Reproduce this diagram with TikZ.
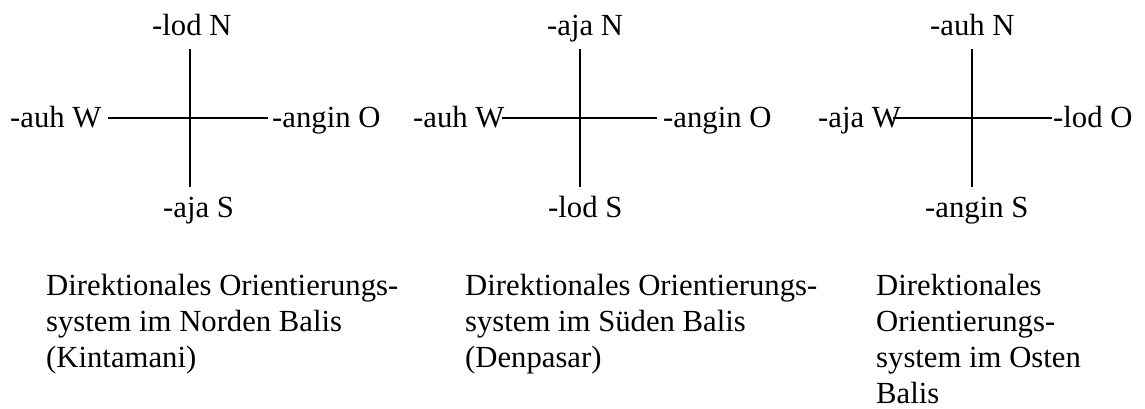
\documentclass[tikz,border=0pt]{standalone}
\usepackage{fontspec}
\setmainfont{Liberation Serif}
\tikzset{
  lbl/.style={anchor=base west, inner sep=0pt, font=\fontsize{30.7}{36}\selectfont},
  captxt/.style={anchor=north west, inner sep=0pt, align=left, font=\fontsize{30.7}{36}\selectfont},
  arm/.style={line width=1.5pt, black}
}
\begin{document}
\begin{tikzpicture}[x=1pt,y=1pt]
\useasboundingbox (0,0) rectangle (1145,408);
% Diagram 1
\coordinate (a1n) at (190,359); \coordinate (a1s) at (190,221);
\coordinate (a1w) at (108,290); \coordinate (a1o) at (268,290);
\draw[arm] (a1n) -- (a1s);
\draw[arm] (a1w) -- (a1o);
\node[lbl] (l1n) at (152,372) {-lod N};
\node[lbl] (l1w) at (10,281) {-auh W};
\node[lbl] (l1o) at (272,281) {-angin O};
\node[lbl] (l1s) at (163,191) {-aja S};
% Diagram 2
\coordinate (a2n) at (580,359); \coordinate (a2s) at (580,221);
\coordinate (a2w) at (502,290); \coordinate (a2o) at (657,290);
\draw[arm] (a2n) -- (a2s);
\draw[arm] (a2w) -- (a2o);
\node[lbl] (l2n) at (547,372) {-aja N};
\node[lbl] (l2w) at (413,281) {-auh W};
\node[lbl] (l2o) at (663,281) {-angin O};
\node[lbl] (l2s) at (548,191) {-lod S};
% Diagram 3
\coordinate (a3n) at (972,359); \coordinate (a3s) at (972,221);
\coordinate (a3w) at (893,290); \coordinate (a3o) at (1052,290);
\draw[arm] (a3n) -- (a3s);
\draw[arm] (a3w) -- (a3o);
\node[lbl] (l3n) at (930,372) {-auh N};
\node[lbl] (l3w) at (818,281) {-aja W};
\node[lbl] (l3o) at (1053,281) {-lod O};
\node[lbl] (l3s) at (925,191) {-angin S};
% Captions
\node[captxt] (c1) at (46,134) {Direktionales Orientierungs-\\system im Norden Balis\\(Kintamani)};
\node[captxt] (c2) at (465,134) {Direktionales Orientierungs-\\system im Süden Balis\\(Denpasar)};
\node[captxt] (c3) at (876,134) {Direktionales\\Orientierungs-\\system im Osten\\Balis};
\end{tikzpicture}
\end{document}
